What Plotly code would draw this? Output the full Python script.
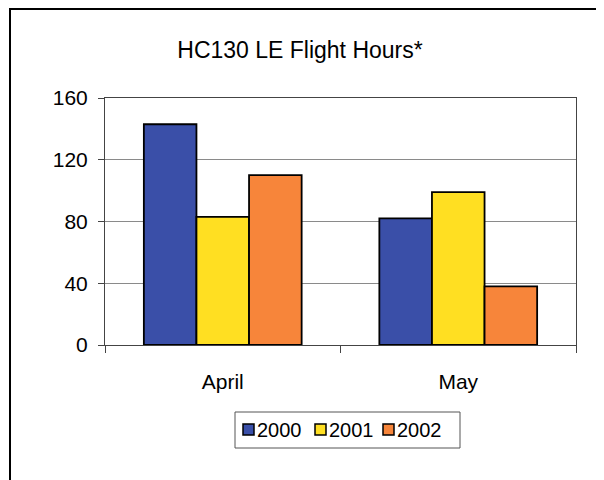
import plotly.graph_objects as go

months = ["April", "May"]
years = ["2000", "2001", "2002"]
values_2000 = [143, 82]
values_2001 = [83, 99]
values_2002 = [110, 38]
y_ticks = [0, 40, 80, 120, 160]
colors = ["#3A4FA8", "#FFDF22", "#F7853A"]

FONT = "Liberation Sans, Arial, sans-serif"

fig = go.Figure()
for yr, vals, c in zip(years, [values_2000, values_2001, values_2002], colors):
    fig.add_trace(go.Bar(x=months, y=vals, name=yr, showlegend=False,
                         marker=dict(color=c, line=dict(color="black", width=1.8))))

# page is offset by the browser's 8px body margin
FW, FH = 596, 472
L, R, T, B = 97, 28, 90, 135
W = FW - L - R
H = FH - T - B


def px(xr):
    return (xr - 8 - L) / W


def py(yr):
    return (FH - B - (yr - 8)) / H


fig.update_layout(
    width=FW, height=FH,
    margin=dict(l=L, r=R, t=T, b=B),
    paper_bgcolor="white", plot_bgcolor="white",
    font=dict(family=FONT, color="black", size=21),
    title=dict(text="HC130 LE Flight Hours*", x=(300 - 8) / FW, xanchor="center",
               y=1 - (50 - 8) / FH, yanchor="middle", font=dict(size=23)),
    barmode="group", bargap=0.33, bargroupgap=0,
    showlegend=False,
    xaxis=dict(showline=True, linecolor="#444444", linewidth=1, mirror=True,
               ticks="outside", tickson="boundaries", ticklen=7, tickcolor="#444444",
               showgrid=False, tickfont=dict(size=21), ticklabelstandoff=18),
    yaxis=dict(range=[0, 160], tickvals=y_ticks, showline=True, linecolor="#444444",
               linewidth=1, mirror=True, ticks="outside", ticklen=6, tickcolor="#444444",
               showgrid=True, gridcolor="#8a8a8a", gridwidth=1, zeroline=False,
               tickfont=dict(size=21), ticklabelstandoff=6),
)

# outer chart frame
fig.add_shape(type="rect", xref="paper", yref="paper",
              x0=px(10), x1=px(630), y0=py(500), y1=py(9),
              line=dict(color="black", width=2), fillcolor="rgba(0,0,0,0)", layer="below")

# legend box
fig.add_shape(type="rect", xref="paper", yref="paper",
              x0=px(235), x1=px(460), y0=py(448), y1=py(412),
              line=dict(color="#555555", width=1), fillcolor="white")
item_x = [243, 315, 383]
for xs, yr, c in zip(item_x, years, colors):
    fig.add_shape(type="rect", xref="paper", yref="paper",
                  x0=px(xs), x1=px(xs + 11), y0=py(435), y1=py(424),
                  line=dict(color="black", width=1.5), fillcolor=c)
    fig.add_annotation(xref="paper", yref="paper", x=px(xs + 12), y=py(430),
                       text=yr, showarrow=False, xanchor="left", yanchor="middle",
                       font=dict(size=20, family=FONT))

fig.write_html("out.html")
